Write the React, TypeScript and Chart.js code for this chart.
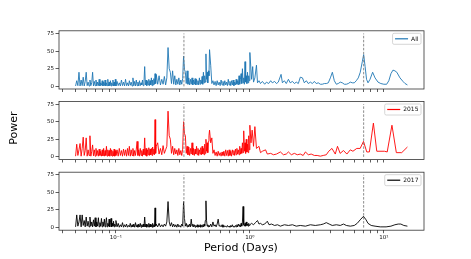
import React, { useEffect, useRef } from 'react';
import { Chart, registerables } from 'chart.js';

Chart.register(...registerables);
Chart.defaults.font.family = '"DejaVu Sans", sans-serif';

// ---- data ----
const markerPeriods = [0.322, 7.07];
const markerPower = [0, 75];
const yTicks = [0, 25, 50, 75];
const xMajorTicks = [0.1, 1, 10];
const xMajorLabels = ['10⁻¹', '10⁰', '10¹'];
const xMinorTicks = [0.04, 0.05, 0.06, 0.07, 0.08, 0.09, 0.2, 0.3, 0.4, 0.5, 0.6, 0.7, 0.8, 0.9, 2, 3, 4, 5, 6, 7, 8, 9];

const shortPeriods = [
  0.050, 0.051, 0.052, 0.053, 0.054, 0.055, 0.056, 0.057, 0.058, 0.059,
  0.060, 0.061, 0.062, 0.063, 0.064, 0.065, 0.066, 0.067, 0.068, 0.069,
  0.070, 0.071, 0.072, 0.073, 0.074, 0.075, 0.076, 0.077, 0.078, 0.079,
  0.080, 0.081, 0.082, 0.083, 0.084, 0.085, 0.086, 0.087, 0.088, 0.089,
  0.090, 0.091, 0.092, 0.093, 0.094, 0.095, 0.096, 0.097, 0.098, 0.099,
  0.100,
  0.102, 0.104, 0.106, 0.108, 0.110, 0.112, 0.114, 0.116, 0.118, 0.120,
  0.122, 0.124, 0.126, 0.128, 0.130, 0.132, 0.134, 0.136, 0.138, 0.140,
  0.142, 0.144, 0.146, 0.148, 0.150, 0.152, 0.154, 0.156, 0.158, 0.160,
  0.162, 0.164, 0.166, 0.168, 0.170, 0.172, 0.174, 0.176, 0.178, 0.180,
  0.182, 0.184, 0.186, 0.188, 0.190, 0.192, 0.194, 0.196, 0.198, 0.200,
  0.205, 0.210, 0.215, 0.220, 0.225, 0.230, 0.235, 0.240, 0.245, 0.250,
  0.255, 0.260, 0.265, 0.270, 0.275, 0.280, 0.285, 0.290, 0.295, 0.300,
  0.305, 0.310, 0.315, 0.320, 0.325, 0.330, 0.335, 0.340, 0.345, 0.350,
  0.355, 0.360, 0.365, 0.370, 0.375, 0.380, 0.385, 0.390, 0.395, 0.400,
  0.405, 0.410, 0.415, 0.420, 0.425, 0.430, 0.435, 0.440, 0.445, 0.450,
  0.455, 0.460, 0.465, 0.470, 0.475, 0.480, 0.485, 0.490, 0.495, 0.500,
  0.51, 0.52, 0.53, 0.54, 0.55, 0.56, 0.57, 0.58, 0.59, 0.60,
  0.61, 0.62, 0.63, 0.64, 0.65, 0.66, 0.67, 0.68, 0.69, 0.70,
  0.71, 0.72, 0.73, 0.74, 0.75, 0.76, 0.77, 0.78, 0.79, 0.80,
  0.81, 0.82, 0.83, 0.84, 0.85, 0.86, 0.87, 0.88, 0.89, 0.90,
  0.91, 0.92, 0.93, 0.94, 0.95, 0.96, 0.97, 0.98, 0.99, 1.00,
];

const allShortPower = [
  0.5, 8, 1, 20, 0.5, 9, 1, 13, 0.5, 7,
  20, 1, 6, 0.5, 9, 1, 5, 20, 0.5, 7,
  1, 9, 0.5, 6, 1, 10, 0.5, 5, 1.5, 8,
  0.5, 6, 1, 9, 0.5, 5, 1, 10, 0.5, 6,
  1, 8, 0.5, 5, 1.5, 9, 0.5, 6, 1, 10,
  0.5,
  7, 1, 5, 0.5, 9, 1, 6, 0.5, 10, 1,
  5, 0.5, 8, 1.5, 6, 0.5, 12, 1, 7, 0.5,
  9, 1, 6, 0.5, 8, 1, 5, 2, 9, 1,
  6, 28, 2, 9, 1, 7, 2, 10, 1, 8,
  2, 12, 1, 9, 2, 11, 3, 18, 4, 17,
  3, 15, 2, 10, 3, 14, 2, 12, 55, 25,
  20, 4, 22, 3, 15, 2, 10, 3, 12, 2,
  9, 3, 11, 43, 24, 20, 4, 22, 3, 12,
  2, 10, 3, 12, 2, 9, 3, 11, 2, 10,
  3, 8, 2, 12, 3, 9, 4, 14, 3, 20,
  5, 15, 6, 46, 10, 20, 5, 22, 15, 52,
  30, 4, 8, 2, 7, 1, 8, 2, 6, 1,
  9, 2, 7, 1, 8, 2, 6, 1, 10, 2,
  7, 1, 8, 2, 9, 1, 6, 2, 10, 3,
  8, 2, 15, 3, 10, 18, 4, 25, 5, 12,
  3, 35, 6, 15, 4, 20, 5, 15, 8, 48,
];
const allLongPeriods = [
  1.03, 1.05, 1.065, 1.09, 1.12, 1.14, 1.17, 1.2, 1.24, 1.29, 1.33, 1.38, 1.43, 1.47, 1.53, 1.58, 1.63, 1.71, 1.75, 1.81,
  1.87, 1.94, 2.0, 2.08, 2.15, 2.22, 2.3, 2.38, 2.47, 2.55, 2.64, 2.73, 2.83, 2.93, 3.03, 3.13, 3.24, 3.36, 3.47, 3.6,
  3.72, 3.85, 3.99, 4.13, 4.27, 4.42, 4.57, 4.73, 4.9, 5.07, 5.25, 5.43, 5.62, 5.82, 6.02, 6.23, 6.45, 6.67, 6.91, 7.07,
  7.25, 7.43, 7.62, 7.89, 8.25, 8.6, 9.05, 9.5, 10.0, 10.5, 10.9, 11.3, 11.7, 12.1, 12.5, 13.2, 13.9, 14.4, 15.0,
];
const allLongPower = [
  10, 28, 6, 12, 30, 5, 8, 4, 7, 3, 6, 4, 8, 5, 7, 4, 6, 17, 5, 8,
  4, 10, 5, 7, 4, 6, 4, 13, 12, 5, 8, 4, 6, 4, 7, 4, 5, 3, 3, 4,
  4, 5, 12, 20, 8, 3, 4, 6, 5, 3, 3, 4, 6, 5, 5, 8, 12, 20, 35, 45,
  28, 10, 5, 10, 20, 12, 6, 4, 3, 3, 8, 18, 23, 22, 20, 12, 7, 4, 2,
];

const y2015ShortPower = [
  1, 18, 2, 10, 19, 1, 12, 28, 2, 9,
  27, 1, 10, 2, 30, 1, 8, 17, 1.5, 10,
  1, 12, 2, 9, 1, 11, 2, 8, 1, 10,
  1.5, 12, 1, 9, 2, 15, 1, 10, 1.5, 9,
  1, 12, 2, 10, 1, 8, 1.5, 11, 1, 9,
  2,
  10, 1, 12, 2, 9, 1, 11, 2, 10, 1,
  12, 2, 15, 1, 10, 2, 12, 1, 9, 2,
  11, 22, 2, 10, 1, 12, 2, 9, 1, 11,
  3, 27, 2, 12, 1, 10, 3, 13, 2, 11,
  3, 12, 2, 14, 4, 11, 3, 53, 5, 15,
  20, 4, 12, 3, 16, 5, 10, 15, 65, 30,
  25, 5, 15, 3, 12, 4, 10, 2, 12, 3,
  9, 2, 11, 50, 33, 30, 5, 15, 3, 14,
  2, 12, 4, 20, 3, 12, 2, 11, 4, 15,
  3, 12, 2, 10, 4, 13, 3, 15, 4, 12,
  3, 18, 5, 25, 8, 20, 6, 22, 30, 38,
  20, 27, 5, 10, 2, 7, 1, 8, 2, 6,
  1, 7, 2, 8, 1, 10, 2, 9, 1, 10,
  2, 8, 1, 10, 3, 9, 2, 11, 3, 12,
  4, 10, 3, 15, 4, 12, 5, 20, 6, 37,
  8, 20, 5, 25, 7, 18, 6, 30, 10, 45,
];
const y2015LongPeriods = [
  1.02, 1.04, 1.065, 1.09, 1.12, 1.17, 1.2, 1.24, 1.31, 1.35, 1.43, 1.5, 1.58, 1.69, 1.78, 1.87, 1.94, 2.04, 2.15, 2.26,
  2.38, 2.5, 2.6, 2.73, 2.87, 3.03, 3.18, 3.36, 3.53, 3.72, 3.88, 4.1, 4.34, 4.51, 4.72, 5.0, 5.3, 5.62, 5.88, 6.28,
  6.66, 7.05, 7.46, 7.8, 8.36, 8.86, 10.1, 10.6, 11.5, 12.4, 13.6, 15.0,
];
const y2015LongPower = [
  20, 38, 15, 43, 12, 15, 6, 8, 10, 4, 5, 3, 4, 7, 3, 4, 7, 3, 5, 3,
  4, 2, 7, 3, 4, 2, 2, 1, 2, 3, 8, 12, 4, 15, 5, 9, 4, 10, 8, 12,
  12, 22, 7, 7, 48, 8, 8, 7, 45, 6, 6, 14,
];

const y2017ShortPower = [
  1, 18, 2, 8, 18, 1, 18, 3, 10, 1,
  15, 2, 9, 1, 15, 2, 8, 1, 11, 2,
  14, 1, 8, 2, 14, 1, 7, 2, 13, 1,
  8, 2, 12, 1, 7, 14, 1, 6, 2, 12,
  1, 7, 13, 1, 6, 2, 9, 1, 5, 2,
  10,
  1, 6, 0.5, 4, 1, 7, 0.5, 4, 1, 5,
  0.5, 3, 1, 6, 0.5, 4, 1, 5, 0.5, 7,
  1, 4, 0.5, 5, 1, 6, 0.5, 4, 1, 5,
  1, 15, 1, 5, 0.5, 4, 1, 6, 0.5, 5,
  1, 4, 0.5, 6, 1, 4, 1, 28, 2, 5,
  1, 6, 1, 4, 1, 5, 2, 8, 37, 8,
  2, 7, 1, 5, 1, 4, 0.5, 5, 1, 3,
  0.5, 5, 2, 37, 13, 2, 6, 1, 4, 1,
  5, 1, 12, 2, 5, 1, 4, 0.5, 3, 1,
  4, 0.5, 3, 1, 4, 0.5, 3, 1, 4, 1,
  5, 2, 10, 38, 10, 2, 4, 1, 3, 1,
  5, 1, 8, 2, 4, 1, 5, 12, 2, 3,
  1, 4, 0.5, 3, 1, 2, 0.5, 3, 1, 2,
  0.5, 3, 1, 4, 1, 2, 0.5, 3, 1, 4,
  1, 5, 2, 4, 1, 6, 2, 8, 30, 4,
  2, 6, 2, 8, 3, 5, 2, 6, 3, 4,
];
const y2017LongPeriods = [
  1.03, 1.065, 1.1, 1.14, 1.17, 1.2, 1.24, 1.29, 1.35, 1.39, 1.45, 1.53, 1.61, 1.69, 1.81, 1.94, 2.08, 2.22, 2.38, 2.6,
  2.83, 3.08, 3.36, 3.53, 3.72, 3.91, 4.12, 4.42, 4.73, 5.0, 5.25, 5.62, 6.02, 6.33, 6.66, 7.05, 7.37, 7.62, 8.05, 8.6,
  9.4, 10.4, 11.3, 12.1, 12.8, 13.4, 14.1, 15.0,
];
const y2017LongPower = [
  6, 4, 7, 10, 5, 6, 4, 5, 9, 4, 5, 3, 4, 2, 4, 3, 4, 2, 3, 2,
  4, 3, 4, 5, 7, 5, 3, 4, 3, 5, 3, 2, 3, 6, 11, 16, 11, 6, 3, 2,
  1, 1, 2, 4, 5, 5, 3, 2,
];

const X_MIN = 0.0376;
const X_MAX = 19.95;
const Y_MIN = -3.75;
const Y_MAX = 78.75;

const W = 471;
const H = 259;

type PanelSpec = {
  label: string;
  color: string;
  periods: number[];
  power: number[];
  top: number;
  bottom: number;
  showX: boolean;
};

const panels: PanelSpec[] = [
  { label: 'All', color: '#1f77b4', periods: shortPeriods.concat(allLongPeriods), power: allShortPower.concat(allLongPower), top: 30.8, bottom: 89, showX: false },
  { label: '2015', color: '#ff0000', periods: shortPeriods.concat(y2015LongPeriods), power: y2015ShortPower.concat(y2015LongPower), top: 101.5, bottom: 159.5, showX: false },
  { label: '2017', color: '#000000', periods: shortPeriods.concat(y2017LongPeriods), power: y2017ShortPower.concat(y2017LongPower), top: 172.2, bottom: 230.2, showX: true },
];

function makeConfig(p: PanelSpec): any {
  const framePlugin = {
    id: 'frame',
    afterDatasetsDraw(chart: any) {
      const { ctx, chartArea: a } = chart;
      ctx.save();
      ctx.strokeStyle = '#333';
      ctx.lineWidth = 0.8;
      ctx.strokeRect(a.left, a.top, a.right - a.left, a.bottom - a.top);
      ctx.restore();
    },
  };
  const legendPlugin = {
    id: 'panelLegend',
    afterDraw(chart: any) {
      const { ctx, chartArea: a } = chart;
      ctx.save();
      ctx.font = '6px "DejaVu Sans"';
      const tw = ctx.measureText(p.label).width;
      const h = 11;
      const w = 2.5 + 13 + 3 + tw + 2.5;
      const right = a.right - 3;
      const left = right - w;
      const top = a.top + 2.5;
      ctx.beginPath();
      if ((ctx as any).roundRect) (ctx as any).roundRect(left, top, w, h, 1.5);
      else ctx.rect(left, top, w, h);
      ctx.fillStyle = 'rgba(255,255,255,0.8)';
      ctx.fill();
      ctx.strokeStyle = '#cccccc';
      ctx.lineWidth = 0.8;
      ctx.stroke();
      ctx.beginPath();
      ctx.moveTo(left + 2.5, top + h / 2);
      ctx.lineTo(left + 15.5, top + h / 2);
      ctx.strokeStyle = p.color;
      ctx.lineWidth = 1.2;
      ctx.stroke();
      ctx.fillStyle = '#111';
      ctx.textBaseline = 'middle';
      ctx.textAlign = 'left';
      ctx.fillText(p.label, left + 18.5, top + h / 2 + 0.3);
      ctx.restore();
    },
  };

  const markerSets = markerPeriods.map((m) => ({
    data: markerPower.map((v) => ({ x: m, y: v })),
    borderColor: '#7f7f7f',
    borderWidth: 0.9,
    borderDash: [2.5, 1.5],
    pointRadius: 0,
    order: 0,
  }));

  return {
    type: 'line',
    data: {
      datasets: [
        ...markerSets,
        {
          label: p.label,
          data: p.periods.map((x, i) => ({ x, y: p.power[i] })),
          borderColor: p.color,
          borderWidth: 0.9,
          pointRadius: 0,
          tension: 0,
          order: 1,
        },
      ],
    },
    options: {
      animation: false,
      responsive: false,
      devicePixelRatio: 1,
      events: [],
      layout: { padding: { left: 39, right: 47, top: p.top, bottom: H - p.bottom - 12 } },
      plugins: { legend: { display: false }, tooltip: { enabled: false } },
      scales: {
        x: {
          type: 'logarithmic',
          min: X_MIN,
          max: X_MAX,
          afterBuildTicks: (s: any) => {
            s.ticks = xMinorTicks.concat(xMajorTicks).sort((a, b) => a - b).map((v) => ({ value: v }));
          },
          afterFit: (s: any) => {
            s.height = 12;
          },
          ticks: {
            autoSkip: false,
            maxRotation: 0,
            minRotation: 0,
            padding: 1,
            font: { size: 5.5 },
            color: '#111',
            callback: (v: number) => {
              if (!p.showX) return '';
              const i = xMajorTicks.indexOf(v);
              return i >= 0 ? xMajorLabels[i] : '';
            },
          },
          grid: { drawOnChartArea: false, drawTicks: true, tickLength: 3, tickColor: '#333', tickWidth: 0.8 },
          border: { display: false },
        },
        y: {
          type: 'linear',
          min: Y_MIN,
          max: Y_MAX,
          afterBuildTicks: (s: any) => {
            s.ticks = yTicks.map((v) => ({ value: v }));
          },
          afterFit: (s: any) => {
            s.width = 20;
          },
          ticks: { padding: 1.5, font: { size: 5.5 }, color: '#111' },
          grid: { drawOnChartArea: false, drawTicks: true, tickLength: 3.5, tickColor: '#333', tickWidth: 0.8 },
          border: { display: false },
        },
      },
    },
    plugins: [framePlugin, legendPlugin],
  };
}

function Panel({ spec }: { spec: PanelSpec }) {
  const ref = useRef<HTMLCanvasElement>(null);
  useEffect(() => {
    const chart = new Chart(ref.current as HTMLCanvasElement, makeConfig(spec));
    return () => chart.destroy();
  }, [spec]);
  return (
    <canvas
      ref={ref}
      width={W}
      height={H}
      style={{ position: 'absolute', left: 0, top: 0, width: W, height: H }}
    />
  );
}

export default function App() {
  return (
    <div style={{ position: 'fixed', left: 0, top: 0, width: W, height: H, background: '#fff', overflow: 'hidden' }}>
      {panels.map((p) => (
        <Panel key={p.label} spec={p} />
      ))}
      <div
        style={{
          position: 'absolute',
          left: -6,
          top: 121,
          width: 40,
          height: 14,
          lineHeight: '14px',
          textAlign: 'center',
          transform: 'rotate(-90deg)',
          transformOrigin: '50% 50%',
          font: '11px "DejaVu Sans", sans-serif',
          whiteSpace: 'nowrap',
          color: '#000',
        }}
      >
        Power
      </div>
      <div
        style={{
          position: 'absolute',
          left: 191,
          top: 241,
          width: 100,
          height: 14,
          lineHeight: '14px',
          textAlign: 'center',
          font: '11px "DejaVu Sans", sans-serif',
          whiteSpace: 'nowrap',
          color: '#000',
        }}
      >
        Period (Days)
      </div>
    </div>
  );
}
